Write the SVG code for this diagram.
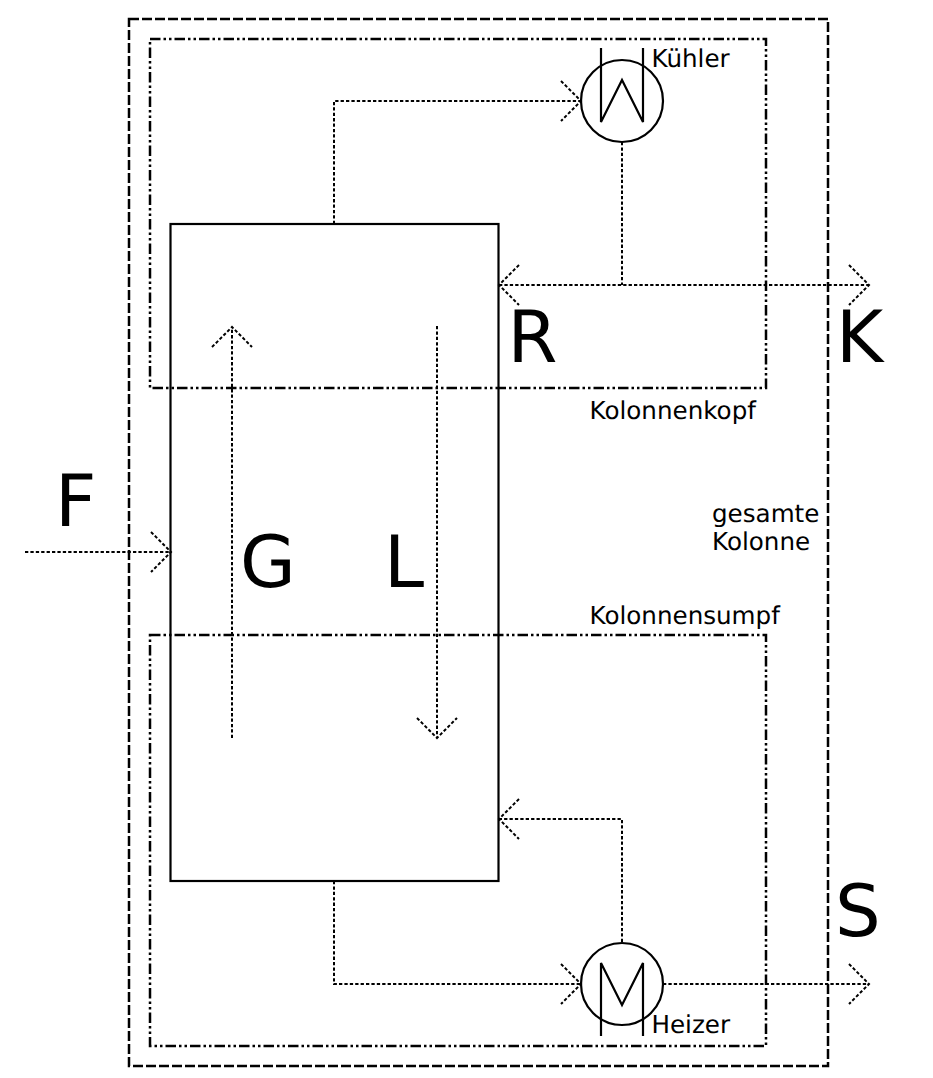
<svg xmlns="http://www.w3.org/2000/svg" width="933" height="1078" viewBox="0 0 933 1078">
<style>
.s{fill:none;stroke:#000;stroke-width:2.2}
.f{fill:none;stroke:#000;stroke-width:2;stroke-dasharray:3.300 2.100}
.o{fill:none;stroke:#000;stroke-width:2.5;stroke-dasharray:10 3}
.d{fill:none;stroke:#000;stroke-width:2.500;stroke-dasharray:10.500 3 2.500 3 2.500 3}
.t{font-family:"DejaVu Sans",sans-serif;fill:#000;text-rendering:geometricPrecision}
.b{font-size:72px}
.m{font-size:24.600px}
</style>
<rect width="933" height="1078" fill="#fff"/>
<g id="boundaries">
<rect id="gesamt" class="o" x="129" y="19" width="699" height="1047"/>
<rect id="kopf" class="d" x="150" y="39" width="616" height="349"/>
<rect id="sumpf" class="d" x="150" y="635" width="616" height="411"/>
</g>
<g id="connectors">
<path class="f" d="M334 224V101H581"/>
<path class="f" d="M561 81L581 101L561 121"/>
<path class="f" d="M622 142V285"/>
<path class="f" d="M499 285H869"/>
<path class="f" d="M519 265L499 285L519 305"/>
<path class="f" d="M849 265L869 285L849 305"/>
<path class="f" d="M232 738V327"/>
<path class="f" d="M212 347L232 327L252 347"/>
<path class="f" d="M437 326V738"/>
<path class="f" d="M417 718L437 738L457 718"/>
<path class="f" d="M25 552H171"/>
<path class="f" d="M151 532L171 552L151 572"/>
<path class="f" d="M622 942V819H499"/>
<path class="f" d="M519 799L499 819L519 839"/>
<path class="f" d="M334 881V984H581"/>
<path class="f" d="M561 964L581 984L561 1004"/>
<path class="f" d="M663 984H869"/>
<path class="f" d="M849 964L869 984L849 1004"/>
</g>
<g id="kolonne"><rect class="s" x="170.500" y="224" width="328" height="657"/></g>
<g id="kuehler">
<circle class="s" cx="622" cy="101" r="41"/>
<path class="s" d="M601 48V122L622 80L643 122V48"/>
<text class="t m" x="651.500" y="67">Kühler</text>
</g>
<g id="heizer">
<circle class="s" cx="622" cy="984" r="41"/>
<path class="s" d="M601 1036V963L622 1005L643 963V1036"/>
<text class="t m" x="651.500" y="1033">Heizer</text>
</g>
<g id="labels">
<text class="t b" x="507.500" y="362">R</text>
<text class="t b" x="836" y="362">K</text>
<text class="t b" x="55" y="526">F</text>
<text class="t b" x="240" y="587">G</text>
<text class="t b" x="384" y="587">L</text>
<text class="t b" x="835" y="936">S</text>
<text class="t m" x="589.500" y="419">Kolonnenkopf</text>
<text class="t m" x="589.500" y="624">Kolonnensumpf</text>
<text class="t m" x="712" y="522">gesamte</text>
<text class="t m" x="712" y="550">Kolonne</text>
</g>
</svg>
